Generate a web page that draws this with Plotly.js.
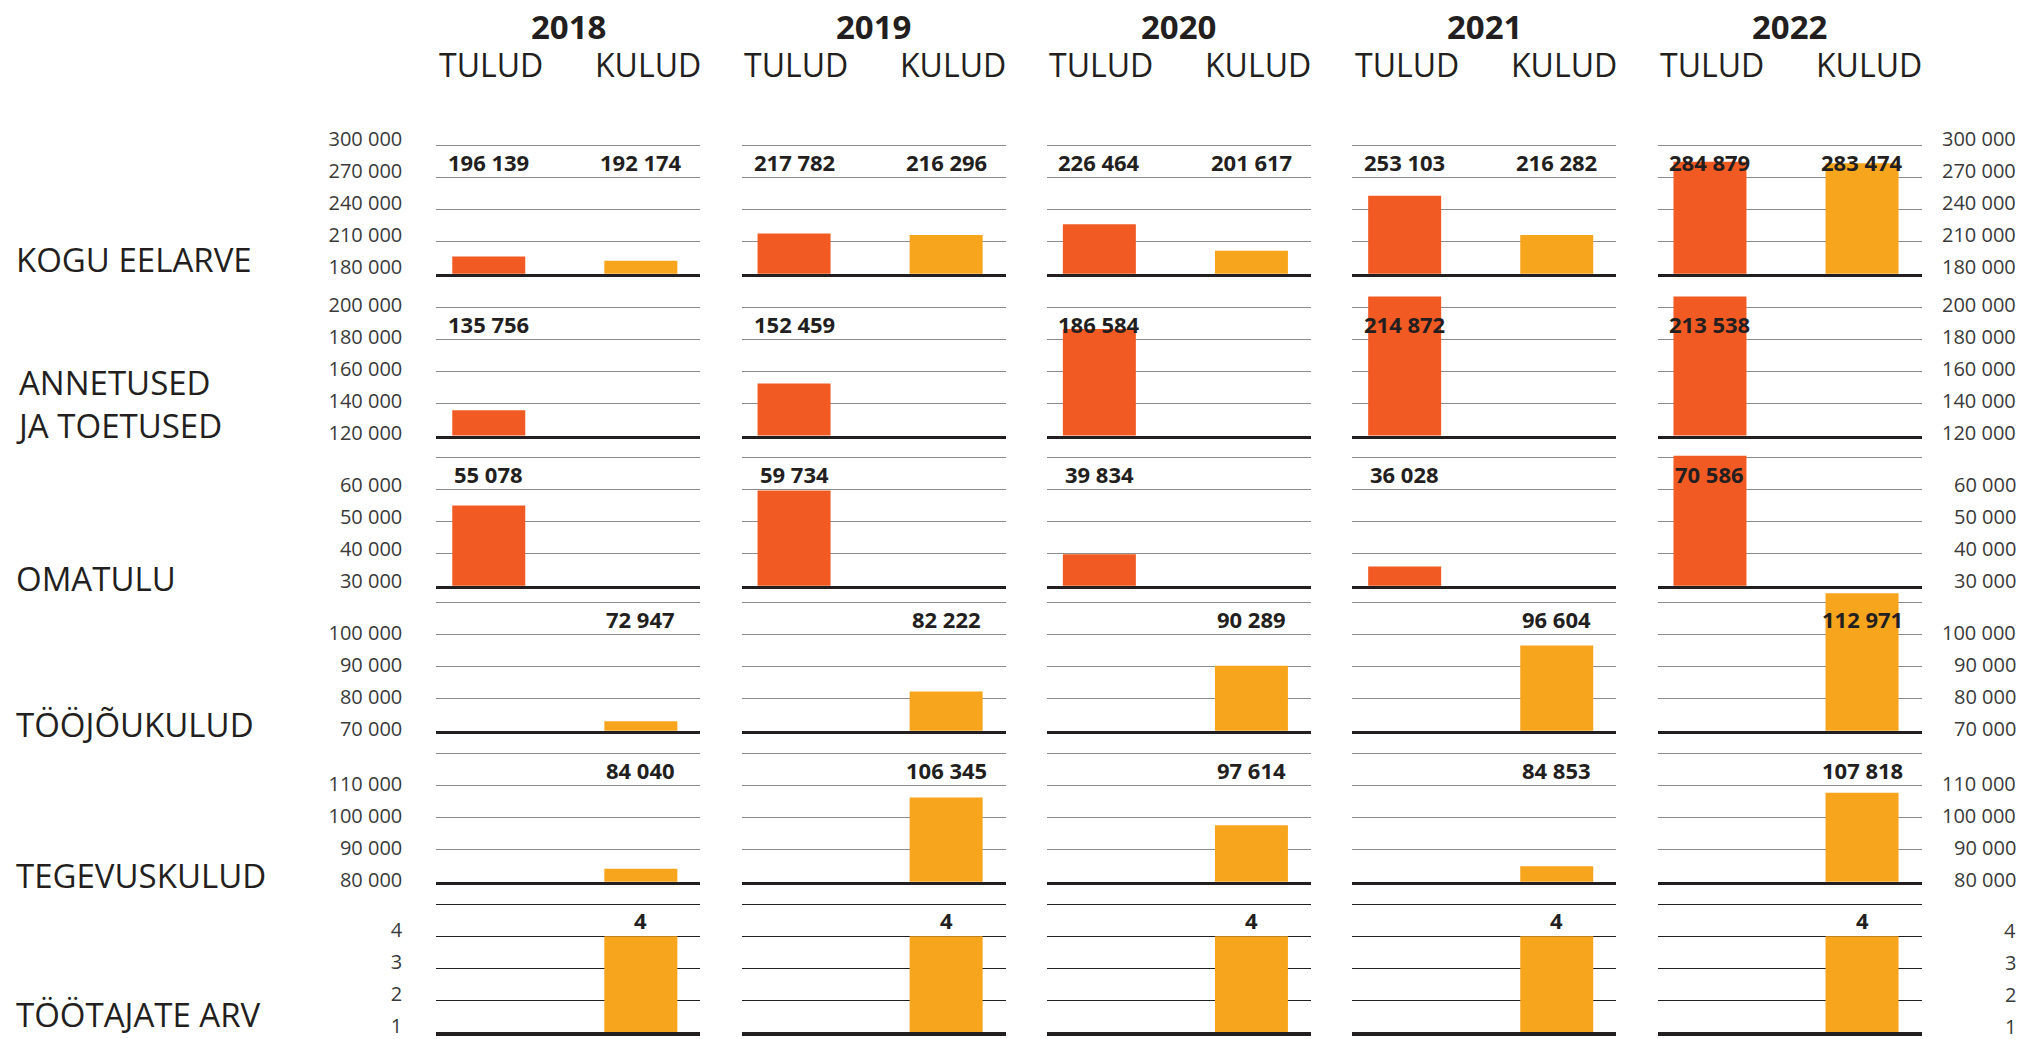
<!DOCTYPE html>
<html>
<head>
<meta charset="utf-8">
<script src="https://cdn.plot.ly/plotly-3.0.1.min.js"></script>
<style>html,body{margin:0;padding:0;background:#fff;}#chart{width:2024px;height:1039px;}</style>
</head>
<body>
<div id="chart"></div>
<script>
// ---------- DATA ----------
const years = ['2018', '2019', '2020', '2021', '2022'];
const sides = ['TULUD', 'KULUD'];
const rowNames = ['KOGU EELARVE', 'ANNETUSED<br>JA TOETUSED', 'OMATULU', 'TÖÖJÕUKULUD', 'TEGEVUSKULUD', 'TÖÖTAJATE ARV'];

const koguTulud = [196139, 217782, 226464, 253103, 284879];
const koguKulud = [192174, 216296, 201617, 216282, 283474];
const annetusedTulud = [135756, 152459, 186584, 214872, 213538];
const omatuluTulud = [55078, 59734, 39834, 36028, 70586];
const toojoukuludKulud = [72947, 82222, 90289, 96604, 112971];
const tegevuskuludKulud = [84040, 106345, 97614, 84853, 107818];
const tootajateArvKulud = [4, 4, 4, 4, 4];
const noValues = [null, null, null, null, null];

const ticksKogu = [180000, 210000, 240000, 270000, 300000];
const labelsKogu = ['180 000', '210 000', '240 000', '270 000', '300 000'];
const ticksAnnetused = [120000, 140000, 160000, 180000, 200000];
const labelsAnnetused = ['120 000', '140 000', '160 000', '180 000', '200 000'];
const ticksOmatulu = [30000, 40000, 50000, 60000, 70000];
const labelsOmatulu = ['30 000', '40 000', '50 000', '60 000', ''];
const ticksTooj = [70000, 80000, 90000, 100000, 110000];
const labelsTooj = ['70 000', '80 000', '90 000', '100 000', ''];
const ticksTegev = [80000, 90000, 100000, 110000, 120000];
const labelsTegev = ['80 000', '90 000', '100 000', '110 000', ''];
const ticksTootajad = [1, 2, 3, 4, 5];
const labelsTootajad = ['1', '2', '3', '4', ''];

// ---------- STYLE / LAYOUT CONSTANTS ----------
const W = 2024, H = 1039;
const TULUD_COLOR = '#F15A22', KULUD_COLOR = '#F7A51D';
const TEXT = '#231f20';
const TICK = '#3a3a3a';
const FONT = '"Open Sans", Lato, sans-serif';
const rowBasePx = [273.7, 435.5, 585.7, 730.7, 881.7, 1032.3];
const intervalPx = 32, headroomPx = 11;
const colLeftPx0 = 436.3, colStep = 305.3, colWidth = 264;
const labelShift = [7, 3, 5, 2, 2, 6];
const nameShift = [-10, -14, -17, -18, -18, -7];

const rows = [
  {name: rowNames[0], tulud: koguTulud, kulud: koguKulud, ticks: ticksKogu, labels: labelsKogu},
  {name: rowNames[1], tulud: annetusedTulud, kulud: noValues, ticks: ticksAnnetused, labels: labelsAnnetused},
  {name: rowNames[2], tulud: omatuluTulud, kulud: noValues, ticks: ticksOmatulu, labels: labelsOmatulu},
  {name: rowNames[3], tulud: noValues, kulud: toojoukuludKulud, ticks: ticksTooj, labels: labelsTooj},
  {name: rowNames[4], tulud: noValues, kulud: tegevuskuludKulud, ticks: ticksTegev, labels: labelsTegev},
  {name: rowNames[5], tulud: noValues, kulud: tootajateArvKulud, ticks: ticksTootajad, labels: labelsTootajad}
];

const fmt = v => String(v).replace(/\B(?=(\d{3})+(?!\d))/g, ' ');
const axId = (p, n) => p + (n === 1 ? '' : n);
const axName = (p, n) => p + 'axis' + (n === 1 ? '' : n);

const traces = [];
const annotations = [];
const layout = {
  width: W, height: H,
  margin: {l: 0, r: 0, t: 0, b: 0},
  showlegend: false,
  paper_bgcolor: '#ffffff',
  plot_bgcolor: 'rgba(0,0,0,0)',
  font: {family: FONT, color: TEXT},
  annotations: annotations
};

rows.forEach((row, r) => {
  const yn = r + 1;
  const yid = axId('y', yn);
  const step = row.ticks[1] - row.ticks[0];
  const top = row.ticks[row.ticks.length - 1];
  const base = row.ticks[0];
  const B = rowBasePx[r];
  const topPx = B - intervalPx * (row.ticks.length - 1) - headroomPx;
  const grid = r === 5 ? {c: '#231f20', w: 1} : {c: '#8c8c8c', w: 1.5};
  layout[axName('y', yn)] = {
    domain: [1 - B / H, 1 - topPx / H],
    range: [base, top + headroomPx / intervalPx * step],
    tickmode: 'array', tickvals: row.ticks, ticktext: row.labels,
    showgrid: true, gridcolor: grid.c, gridwidth: grid.w,
    zeroline: false, showline: false, ticks: '',
    anchor: axId('x', r * 5 + 1),
    ticklabelstandoff: 33, ticklabelshift: -labelShift[r],
    ticklabeloverflow: 'allow',
    tickfont: {size: 20, color: TICK, family: FONT},
    fixedrange: true
  };
  // right-hand tick labels
  row.ticks.forEach((t, i) => {
    if (!row.labels[i]) return;
    annotations.push({xref: 'paper', yref: yid, x: 2018 / W, y: t, xanchor: 'right', yanchor: 'middle',
      yshift: labelShift[r], text: row.labels[i], showarrow: false,
      font: {size: 20, color: TICK, family: FONT}});
  });
  // row name
  annotations.push({xref: 'paper', yref: yid, x: 14 / W, y: base, xanchor: 'left', yanchor: 'bottom',
    yshift: nameShift[r], align: 'left', text: row.name, showarrow: false,
    font: {size: 33, color: TEXT, family: FONT}});

  years.forEach((yr, c) => {
    const k = r * 5 + c + 1;
    const xid = axId('x', k);
    const left = colLeftPx0 + colStep * c;
    layout[axName('x', k)] = {
      domain: [left / W, (left + colWidth) / W],
      type: 'category', categoryorder: 'array', categoryarray: sides,
      range: [-0.345, 1.391],
      anchor: yid,
      showticklabels: false, ticks: '', showgrid: false, zeroline: false,
      showline: true, linecolor: TEXT, linewidth: 3.5,
      fixedrange: true
    };
    const vals = [row.tulud[c], row.kulud[c]];
    traces.push({
      type: 'bar', x: sides, y: vals, xaxis: xid, yaxis: yid,
      width: 0.48, marker: {color: [TULUD_COLOR, KULUD_COLOR], line: {width: 0}},
      hoverinfo: 'skip'
    });
    vals.forEach((v, s) => {
      if (v === null) return;
      annotations.push({xref: xid, yref: yid, x: sides[s], y: top - step / 2,
        xanchor: 'center', yanchor: 'middle', text: fmt(v), showarrow: false,
        font: {size: 22, color: TEXT, family: FONT, weight: 700}});
    });
    if (r === 0) {
      annotations.push({xref: axId('x', k) + ' domain', yref: 'paper', x: 0.5, y: 1 - 26.7 / H,
        xanchor: 'center', yanchor: 'middle', text: yr, showarrow: false,
        font: {size: 33, color: TEXT, family: FONT, weight: 700}});
      sides.forEach((sd, s) => {
        annotations.push({xref: xid, yref: 'paper', x: sd, y: 1 - 65 / H,
          xanchor: 'center', yanchor: 'middle', xshift: s === 0 ? 2 : 7,
          text: sd, showarrow: false,
          font: {size: 32, color: TEXT, family: FONT}});
      });
    }
  });
});

Plotly.newPlot('chart', traces, layout, {staticPlot: true, displayModeBar: false});
</script>
</body>
</html>
